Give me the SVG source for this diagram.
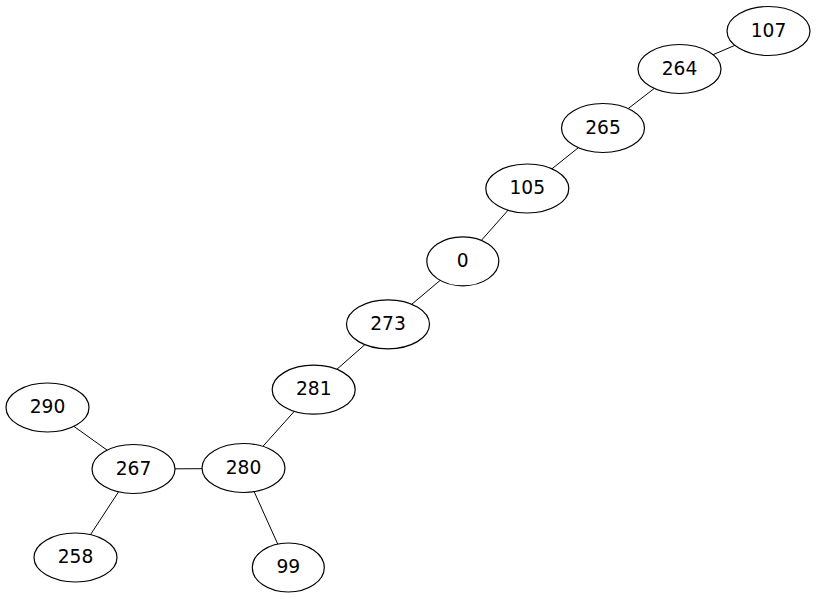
<svg xmlns="http://www.w3.org/2000/svg" width="817" height="599" viewBox="0 0 817 599">
  <style>
    .edge { stroke: #000; stroke-width: 1; fill: none; }
    .node ellipse { fill: #fff; stroke: #000; stroke-width: 1.2; }
    .node text { font-family: "DejaVu Sans", sans-serif; font-size: 18.67px; text-anchor: middle; fill: #000; }
  </style>
  <rect width="817" height="599" fill="#fff"/>
  <g id="edges">
    <line class="edge" x1="768.5" y1="31" x2="679.5" y2="69"/>
    <line class="edge" x1="679.5" y1="69" x2="603" y2="128"/>
    <line class="edge" x1="603" y1="128" x2="527.3" y2="188.5"/>
    <line class="edge" x1="527.3" y1="188.5" x2="462.8" y2="261.3"/>
    <line class="edge" x1="462.8" y1="261.3" x2="388" y2="324.3"/>
    <line class="edge" x1="388" y1="324.3" x2="313.7" y2="389.7"/>
    <line class="edge" x1="313.7" y1="389.7" x2="243.5" y2="468"/>
    <line class="edge" x1="243.5" y1="468.5" x2="133.5" y2="469"/>
    <line class="edge" x1="243.5" y1="468" x2="288.3" y2="567.5"/>
    <line class="edge" x1="133.5" y1="469" x2="47.5" y2="407.5"/>
    <line class="edge" x1="133.5" y1="469" x2="75.5" y2="557.5"/>
  </g>
  <g id="n107" class="node"><ellipse cx="768.5" cy="31" rx="41.5" ry="24.5"/><text x="768.5" y="36.5">107</text></g>
  <g id="n264" class="node"><ellipse cx="679.5" cy="69" rx="41.5" ry="24.5"/><text x="679.5" y="74.5">264</text></g>
  <g id="n265" class="node"><ellipse cx="603" cy="128" rx="41.5" ry="24.5"/><text x="603" y="133.5">265</text></g>
  <g id="n105" class="node"><ellipse cx="527.3" cy="188.5" rx="41.5" ry="24.5"/><text x="527.3" y="194">105</text></g>
  <g id="n0" class="node"><ellipse cx="462.8" cy="261.3" rx="36" ry="24.5"/><text x="462.8" y="266.8">0</text></g>
  <g id="n273" class="node"><ellipse cx="388" cy="324.3" rx="41.5" ry="24.5"/><text x="388" y="329.8">273</text></g>
  <g id="n281" class="node"><ellipse cx="313.7" cy="389.7" rx="41.5" ry="24.5"/><text x="313.7" y="395.2">281</text></g>
  <g id="n280" class="node"><ellipse cx="243.5" cy="468" rx="41.5" ry="24.5"/><text x="243.5" y="473.5">280</text></g>
  <g id="n267" class="node"><ellipse cx="133.5" cy="469" rx="41.5" ry="24.5"/><text x="133.5" y="474.5">267</text></g>
  <g id="n290" class="node"><ellipse cx="47.5" cy="407.5" rx="41.5" ry="24.5"/><text x="47.5" y="413">290</text></g>
  <g id="n258" class="node"><ellipse cx="75.5" cy="557.5" rx="41.5" ry="24.5"/><text x="75.5" y="563">258</text></g>
  <g id="n99" class="node"><ellipse cx="288.3" cy="567.5" rx="36" ry="24.5"/><text x="288.3" y="573">99</text></g>
</svg>
